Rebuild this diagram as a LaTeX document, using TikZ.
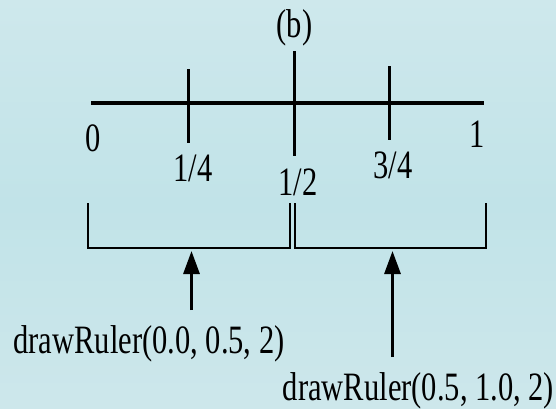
\documentclass[tikz,border=0pt]{standalone}
\usepackage{fontspec}
\setmainfont{Liberation Serif}
\usetikzlibrary{arrows.meta}
\definecolor{bgtop}{RGB}{206,232,236}
\definecolor{bgmid}{RGB}{193,227,232}
\definecolor{bgbot}{RGB}{205,231,235}
\tikzset{
  lbl/.style={anchor=base, inner sep=0pt, font=\fontsize{30.5}{30.5}\selectfont},
  ruler/.style={line width=3.4pt, line cap=butt},
  tick/.style={line width=3pt},
  brk/.style={line width=2.4pt, line join=miter},
  arr/.style={line width=3pt, -{Triangle[length=23pt,width=16pt]}}
}
\newcommand{\tall}[1]{\scalebox{1}[1.32]{#1}}
\begin{document}
\begin{tikzpicture}[x=1pt,y=1pt]
\shade[top color=bgtop, bottom color=bgbot, middle color=bgmid] (0,0) rectangle (556,-408);
\useasboundingbox (0,0) rectangle (556,-408);
% ruler
\draw[ruler] (91,-103) -- (484,-103);
\draw[tick] (188,-69) -- (188,-143);
\draw[tick] (294,-51) -- (294,-156);
\draw[tick] (389,-66) -- (389,-140);
% labels
\node[lbl] (title) at (294.5,-37) {\tall{(b)}};
\node[lbl] (l0) at (93,-151) {\tall{0}};
\node[lbl] (l14) at (193,-181) {\tall{1/4}};
\node[lbl] (l12) at (298,-195) {\tall{1/2}};
\node[lbl] (l34) at (393,-178) {\tall{3/4}};
\node[lbl] (l1) at (477,-147) {\tall{1}};
% brackets
\draw[brk] (88,-203) -- (88,-248) -- (290.2,-248) -- (290.2,-203);
\draw[brk] (294.8,-203) -- (294.8,-248) -- (486,-248) -- (486,-203);
% calls
\node[lbl] (callA) at (149,-353) {\tall{drawRuler(0.0, 0.5, 2)}};
\node[lbl] (callB) at (418.5,-400) {\tall{drawRuler(0.5, 1.0, 2)}};
\coordinate (tailA) at (191.5,-310);
\coordinate (tipA) at (191.5,-251);
\coordinate (tailB) at (392.5,-357);
\coordinate (tipB) at (392.5,-251);
\draw[arr] (tailA) -- (tipA);
\draw[arr] (tailB) -- (tipB);
\end{tikzpicture}
\end{document}
